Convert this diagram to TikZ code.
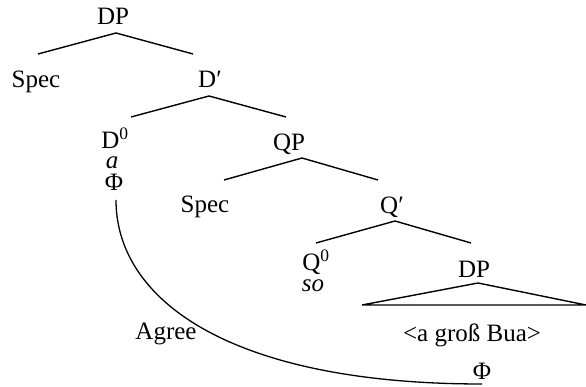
\documentclass[tikz,border=0pt]{standalone}
\usepackage{fontspec}
\setmainfont{Liberation Serif}
\begin{document}
\begin{tikzpicture}[x=1pt,y=-1pt,
  lbl/.style={anchor=base,inner sep=0pt,font=\fontsize{25}{30}\selectfont},
  branch/.style={line width=1.4pt},
  arc/.style={line width=1.3pt}]
\useasboundingbox (0,0) rectangle (586,387);
% labels
\node[lbl] (dp) at (113,25) {DP};
\node[lbl] (spec1) at (36,88) {Spec};
\node[lbl] (dbar) at (210,88) {D′};
\node[lbl] (d0) at (115,149) {D\textsuperscript{0}};
\node[lbl] (a) at (112,169) {\itshape a};
\node[lbl] (phi1) at (114,191) {Φ};
\node[lbl] (qp) at (289,151) {QP};
\node[lbl] (spec2) at (205,213) {Spec};
\node[lbl] (qbar) at (392,214) {Q′};
\node[lbl] (q0) at (316,271) {Q\textsuperscript{0}};
\node[lbl] (so) at (313,291) {\itshape so};
\node[lbl] (dp2) at (474,278) {DP};
\node[lbl] (np) at (472,341) {<a groß Bua>};
\node[lbl] (agree) at (166,339) {Agree};
\node[lbl] (phi2) at (482,379) {Φ};
% branch points
\coordinate (dpA) at (116,33);
\coordinate (dpL) at (38,54);
\coordinate (dpR) at (193,54);
\coordinate (dbA) at (209,96);
\coordinate (dbL) at (131,117);
\coordinate (dbR) at (286,117);
\coordinate (qpA) at (302,158);
\coordinate (qpL) at (224,180);
\coordinate (qpR) at (378,180);
\coordinate (qbA) at (395,221);
\coordinate (qbL) at (316,243);
\coordinate (qbR) at (471,243);
\coordinate (trA) at (478,283);
\coordinate (trL) at (362,305);
\coordinate (trR) at (586,305);
\coordinate (arcS) at (116,200);
\coordinate (arcE) at (482,384);
% branches
\draw[branch] (dpL) -- (dpA) -- (dpR);
\draw[branch] (dbL) -- (dbA) -- (dbR);
\draw[branch] (qpL) -- (qpA) -- (qpR);
\draw[branch] (qbL) -- (qbA) -- (qbR);
\draw[branch,line join=miter] (trL) -- (trA) -- (trR) -- cycle;
% agree arc
\draw[arc] (arcS) .. controls (116,300) and (230,384) .. (arcE);
\end{tikzpicture}
\end{document}
